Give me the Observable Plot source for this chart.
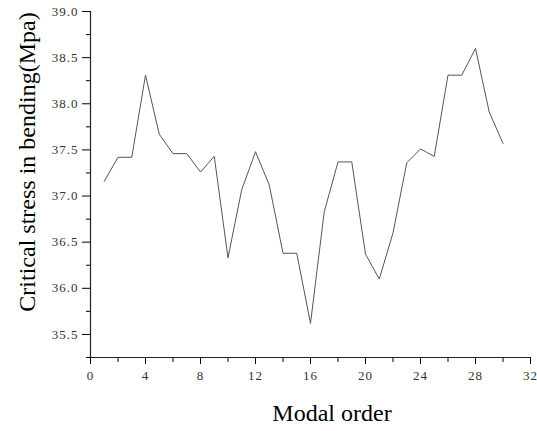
<!DOCTYPE html>
<html><head><meta charset="utf-8">
<script src="https://cdn.jsdelivr.net/npm/d3@7"></script>
<script src="https://cdn.jsdelivr.net/npm/@observablehq/plot@0.6"></script>
<style>body{margin:0;background:#fff}#c{position:relative}</style>
</head><body><div id="c"></div>
<script>
const modalOrder = [1,2,3,4,5,6,7,8,9,10,11,12,13,14,15,16,17,18,19,20,21,22,23,24,25,26,27,28,29,30];
const stress = [37.16,37.42,37.42,38.31,37.67,37.46,37.46,37.26,37.43,36.33,37.07,37.48,37.12,36.38,36.38,35.62,36.83,37.37,37.37,36.37,36.10,36.60,37.36,37.51,37.43,38.31,38.31,38.60,37.91,37.57];
const xTicks = [0,4,8,12,16,20,24,28,32];
const xMinor = [2,6,10,14,18,22,26,30];
const yTicks = [35.5,36.0,36.5,37.0,37.5,38.0,38.5,39.0];
const yMinor = [35.25,35.75,36.25,36.75,37.25,37.75,38.25,38.75];
const xLabel = "Modal order";
const yLabel = "Critical stress in bending(Mpa)";

const data = modalOrder.map((m,i)=>({m, s: stress[i]}));
const chart = Plot.plot({
  width: 537, height: 431,
  marginLeft: 90, marginRight: 7, marginTop: 11, marginBottom: 74,
  style: {fontSize: "13px", color: "#000", background: "#fff"},
  x: {domain: [0, 32]},
  y: {domain: [35.25, 39.0]},
  marks: [
    Plot.axisX(xMinor, {tickSize: 5, text: null, label: null}),
    Plot.axisX(xTicks, {tickSize: 7, tickPadding: 6, label: null, tickFormat: d3.format("d")}),
    Plot.axisY(yMinor, {tickSize: 4, text: null, label: null}),
    Plot.axisY(yTicks, {tickSize: 8, tickPadding: 4, label: null, tickFormat: d3.format(".1f")}),
    Plot.ruleX([0], {stroke: "#222", strokeWidth: 1.2}),
    Plot.ruleY([35.25], {stroke: "#222", strokeWidth: 1.2}),
    Plot.line(data, {x: "m", y: "s", stroke: "#555", strokeWidth: 1})
  ]
});
const svg = d3.select(chart);
svg.selectAll("text").attr("font-family", "Liberation Serif").style("font-family", "Liberation Serif")
  .style("letter-spacing", "1px").attr("fill", "#333");
svg.append("text").attr("x", 332).attr("y", 421).attr("text-anchor","middle")
  .style("font-family","Liberation Serif").style("font-size","24px").attr("fill","#000").text(xLabel);
svg.append("text").attr("transform","translate(35,162) rotate(-90)").attr("text-anchor","middle")
  .style("font-family","Liberation Serif").style("font-size","24px").attr("fill","#000").text(yLabel);
document.getElementById("c").appendChild(chart);
</script></body></html>
